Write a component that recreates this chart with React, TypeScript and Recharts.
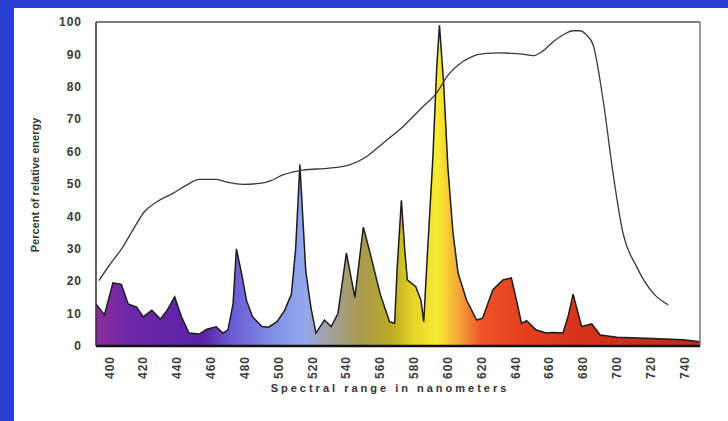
import {
  ComposedChart,
  Area,
  Line,
  XAxis,
  YAxis,
  ReferenceLine,
} from "recharts";

// wavelength (nm) and relative energy (%) of the lamp spectrum
const spectrumNm = [
  392, 397, 402, 407, 411, 416, 420, 425, 430, 434, 438.5, 442.5, 447, 453,
  457.5, 463, 467, 470, 473, 475, 478, 481, 484.5, 490, 494, 499, 503.5, 507.5,
  510, 512.5, 516, 519, 522, 527, 531, 535, 540, 545, 550, 554, 560, 565.5,
  568.5, 570, 572.5, 574.5, 576, 581, 584, 585.7, 588, 591, 593.4, 595, 597.5,
  600, 603, 606, 611, 617, 620.5, 626.5, 632.5, 637.5, 640.5, 643.5, 646.5, 652,
  658, 662, 668, 671, 674, 679, 685, 690, 700, 717, 739, 749,
];
const spectrumPct = [
  13, 9.6, 19.5, 19, 13, 12, 9, 11, 8.3, 11, 15.2, 9, 4, 3.7, 5.2, 5.9, 4, 5,
  13, 30, 22.5, 14, 9, 6, 5.8, 7.5, 11, 16, 30, 56, 23, 12, 4, 8, 6, 10, 28.7,
  15, 36.7, 28.7, 16, 7.5, 7, 24, 45, 29.6, 20.4, 18.3, 14.2, 7.5, 29.6, 57, 86,
  99, 81, 55, 35, 22.5, 14.2, 8, 8.6, 17.3, 20.4, 21, 14.2, 7, 7.8, 5, 4, 4.2,
  4, 9, 16, 6, 6.8, 3.4, 2.7, 2.4, 1.9, 1.3,
];

// plant response curve
const responseNm = [
  393.7, 400, 407.9, 414, 420.7, 428, 437.4, 445, 453.2, 463, 470, 478.8, 488.7,
  495, 502.5, 514.3, 530, 541.9, 551.8, 561.6, 573.4, 585.3, 593.2, 600, 608.9,
  615, 622.8, 630, 638.5, 645, 650.3, 656, 662.2, 668, 674, 678, 681.9, 685.8,
  691.7, 697.6, 703.5, 711.5, 721.3, 730.2,
];
const responsePct = [
  20.2, 25, 30.6, 36, 41.5, 44.5, 47.1, 49.5, 51.4, 51.4, 50.5, 49.9, 50.2, 51,
  52.8, 54.3, 54.9, 55.9, 58.4, 62.6, 67.7, 73.9, 78, 83.5, 87.8, 89.5, 90.3,
  90.5, 90.3, 90, 89.6, 91, 93.9, 96, 97.3, 97.3, 96, 93, 76, 53.3, 34.8, 24.5,
  16.3, 12.7,
];

const xTicks = [
  400, 420, 440, 460, 480, 500, 520, 540, 560, 580, 600, 620, 640, 660, 680,
  700, 720, 740,
];
const yTicks = [0, 10, 20, 30, 40, 50, 60, 70, 80, 90, 100];

const NM_MIN = 392;
const NM_MAX = 749;

// colour stops along the spectrum
const colorStops: [number, string][] = [
  [392, "#8c2f9c"],
  [410, "#6e27a6"],
  [455, "#5a22a8"],
  [472, "#6a5ad4"],
  [495, "#7f8ce6"],
  [515, "#93a8f0"],
  [530, "#a3a19e"],
  [548, "#a89a52"],
  [566, "#b9aa22"],
  [580, "#e6d42a"],
  [594, "#f8ec32"],
  [606, "#f6a83a"],
  [620, "#ef5426"],
  [645, "#e43e1e"],
  [690, "#d3301a"],
  [749, "#c2281a"],
];

const spectrum = spectrumNm.map((nm, i) => ({ nm, energy: spectrumPct[i] }));
const response = responseNm.map((nm, i) => ({ nm, response: responsePct[i] }));

const font = "'Liberation Sans', Arial, sans-serif";

const XTick = (props: any) => {
  const { x, y, payload } = props;
  return (
    <text
      x={x}
      y={y}
      dy={4}
      transform={`rotate(-90 ${x} ${y})`}
      textAnchor="end"
      fontSize={12}
      fontWeight="bold"
      fontFamily={font}
      fill="#3a3a3a"
      letterSpacing={1}
    >
      {payload.value}
    </text>
  );
};

export default function App() {
  return (
    <div
      style={{
        position: "absolute",
        left: 0,
        top: 0,
        width: 728,
        height: 421,
        background: "#2a3ed2",
        overflow: "hidden",
      }}
    >
      <div
        style={{
          position: "absolute",
          left: 14,
          top: 8,
          width: 714,
          height: 413,
          background: "#ffffff",
        }}
      >
        <ComposedChart
          width={714}
          height={413}
          margin={{ top: 14, right: 28, bottom: 0, left: 0 }}
        >
          <defs>
            <linearGradient id="spectrumFill" x1="0" y1="0" x2="1" y2="0">
              {colorStops.map(([nm, c]) => (
                <stop
                  key={nm}
                  offset={(nm - NM_MIN) / (NM_MAX - NM_MIN)}
                  stopColor={c}
                />
              ))}
            </linearGradient>
          </defs>
          <XAxis
            dataKey="nm"
            type="number"
            domain={[NM_MIN, NM_MAX]}
            ticks={xTicks}
            tick={<XTick />}
            tickLine={false}
            tickSize={0}
            tickMargin={10}
            height={75}
            axisLine={{ stroke: "#111", strokeWidth: 2.5 }}
            allowDataOverflow
          />
          <YAxis
            type="number"
            domain={[0, 100]}
            ticks={yTicks}
            width={82}
            tickLine={false}
            tickSize={0}
            tickMargin={14}
            axisLine={{ stroke: "#333", strokeWidth: 1.5 }}
            tick={{
              fontSize: 12,
              fontWeight: "bold",
              fontFamily: font,
              fill: "#3a3a3a",
              letterSpacing: 1,
            }}
          />
          <ReferenceLine y={100} stroke="#555" strokeWidth={1.5} />
          <ReferenceLine x={NM_MAX} stroke="#777" strokeWidth={1.5} />
          <Area
            data={spectrum}
            dataKey="energy"
            type="linear"
            stroke="#1c1c1c"
            strokeWidth={1.5}
            fill="url(#spectrumFill)"
            fillOpacity={1}
            isAnimationActive={false}
          />
          <Line
            data={response}
            dataKey="response"
            type="monotone"
            stroke="#3a3a3a"
            strokeWidth={1.3}
            dot={false}
            isAnimationActive={false}
          />
        </ComposedChart>
        <div
          style={{
            position: "absolute",
            left: 21,
            top: 177,
            transform: "translate(-50%, -50%) rotate(-90deg)",
            whiteSpace: "nowrap",
            fontFamily: font,
            fontWeight: "bold",
            fontSize: 11,
            color: "#333",
          }}
        >
          Percent of relative energy
        </div>
        <div
          style={{
            position: "absolute",
            left: 376,
            top: 380,
            transform: "translate(-50%, -50%)",
            whiteSpace: "nowrap",
            fontFamily: font,
            fontWeight: "bold",
            fontSize: 11,
            letterSpacing: 3,
            color: "#333",
          }}
        >
          Spectral range in nanometers
        </div>
      </div>
    </div>
  );
}
